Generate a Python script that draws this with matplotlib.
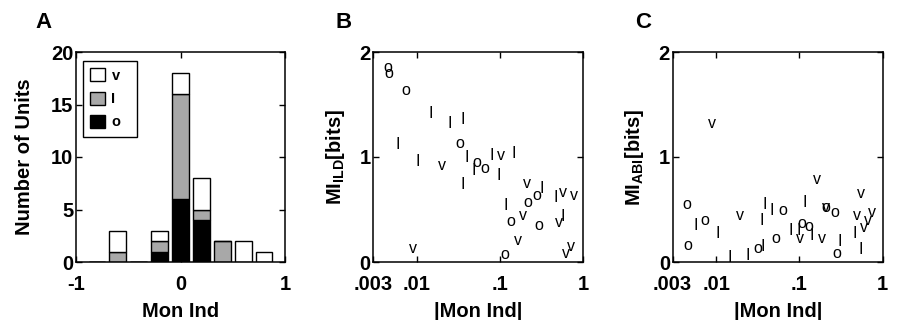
import numpy as np
import matplotlib
matplotlib.use('Agg')
import matplotlib.pyplot as plt
from matplotlib.patches import Patch

plt.rcParams['font.family'] = ['Liberation Sans', 'DejaVu Sans']
plt.rcParams['font.weight'] = 'bold'
plt.rcParams['axes.labelweight'] = 'bold'
plt.rcParams['font.size'] = 14.5
plt.rcParams['axes.unicode_minus'] = False
plt.rcParams['mathtext.fontset'] = 'custom'
plt.rcParams['mathtext.rm'] = 'Liberation Sans:bold'
plt.rcParams['mathtext.bf'] = 'Liberation Sans:bold'

# panel A: histogram of monaural index, stacked by unit type
bin_centers = [-0.8, -0.6, -0.4, -0.2, 0.0, 0.2, 0.4, 0.6, 0.8]
count_o = [0, 0, 0, 1, 6, 4, 0, 0, 0]
count_I = [0, 1, 0, 1, 10, 1, 2, 0, 0]
count_v = [0, 2, 0, 1, 2, 3, 0, 2, 1]

# panel B: MI for ILD vs |Mon Ind|
b_o_x = [0.0045, 0.0046, 0.0073, 0.033, 0.052, 0.066, 0.1125, 0.134, 0.213, 0.275, 0.296]
b_o_y = [1.85, 1.79, 1.63, 1.12, 0.94, 0.89, 0.07, 0.38, 0.56, 0.63, 0.34]
b_I_x = [0.0148, 0.025, 0.0355, 0.0059, 0.0104, 0.0396, 0.0355, 0.048, 0.0793, 0.097,
         0.147, 0.315, 0.117, 0.47, 0.56]
b_I_y = [1.42, 1.33, 1.37, 1.13, 0.97, 1.01, 0.75, 0.88, 1.02, 0.83,
         1.04, 0.71, 0.55, 0.62, 0.44]
b_v_x = [0.020, 0.1026, 0.212, 0.19, 0.166, 0.0091, 0.575, 0.773, 0.515, 0.614, 0.705]
b_v_y = [0.91, 1.01, 0.74, 0.44, 0.20, 0.12, 0.66, 0.63, 0.37, 0.08, 0.14]

# panel C: MI for ABI vs |Mon Ind|
c_o_x = [0.0044, 0.0046, 0.0072, 0.0318, 0.0634, 0.0519, 0.107, 0.13, 0.206, 0.266, 0.284]
c_o_y = [0.54, 0.15, 0.39, 0.12, 0.49, 0.22, 0.36, 0.33, 0.51, 0.47, 0.08]
c_I_x = [0.0057, 0.0103, 0.0146, 0.0237, 0.0359, 0.0348, 0.0383, 0.046, 0.0783, 0.0968,
         0.14, 0.115, 0.308, 0.458, 0.54]
c_I_y = [0.36, 0.28, 0.05, 0.07, 0.16, 0.41, 0.56, 0.50, 0.31, 0.31,
         0.26, 0.58, 0.21, 0.28, 0.13]
c_v_x = [0.0088, 0.0195, 0.1, 0.162, 0.1875, 0.208, 0.55, 0.492, 0.603, 0.661, 0.745]
c_v_y = [1.31, 0.44, 0.22, 0.78, 0.22, 0.51, 0.65, 0.44, 0.32, 0.39, 0.47]

log_ticks = [0.003, 0.01, 0.1, 1]
log_labels = ['.003', '.01', '.1', '1']
gray = '#a8a8a8'

fig = plt.figure(figsize=(9.01, 3.2), dpi=100)
axA = fig.add_axes([0.0844, 0.18125, 0.2319, 0.65625])
axB = fig.add_axes([0.4143, 0.18125, 0.2331, 0.65625])
axC = fig.add_axes([0.7466, 0.18125, 0.2331, 0.65625])


def style(ax):
    ax.tick_params(direction='in', top=True, right=True, length=4, width=1, labelsize=14.5)
    ax.tick_params(axis='x', pad=9)
    ax.tick_params(axis='y', pad=2)
    for lab in ax.get_xticklabels() + ax.get_yticklabels():
        lab.set_fontweight('bold')
    for s in ax.spines.values():
        s.set_linewidth(1.1)
    ax.xaxis.set_label_coords(0.5, -0.19)


# A
w = 0.16
o = np.array(count_o)
i = np.array(count_I)
v = np.array(count_v)
axA.bar(bin_centers, o, w, color='black', edgecolor='black', linewidth=1)
axA.bar(bin_centers, i, w, bottom=o, color=gray, edgecolor='black', linewidth=1)
axA.bar(bin_centers, v, w, bottom=o + i, color='white', edgecolor='black', linewidth=1)
axA.set_xlim(-1, 1)
axA.set_ylim(0, 20)
axA.set_xticks([-1, 0, 1])
axA.set_yticks([0, 5, 10, 15, 20])
axA.set_xlabel('Mon Ind')
axA.set_ylabel('Number of Units')
style(axA)
axA.yaxis.set_label_coords(-0.2, 0.5)
handles = [Patch(facecolor='white', edgecolor='black', label='v'),
           Patch(facecolor=gray, edgecolor='black', label='I'),
           Patch(facecolor='black', edgecolor='black', label='o')]
leg = axA.legend(handles=handles, loc='upper left', bbox_to_anchor=(0.0335, 0.595, 0.258, 0.362),
                 mode='expand', borderaxespad=0, fancybox=False, framealpha=1,
                 edgecolor='black', fontsize=10.5, handlelength=1.0, handleheight=1.0,
                 handletextpad=0.45, labelspacing=0.6, borderpad=0.5)
leg.get_frame().set_linewidth(1)


def glyphs(ax, xs, ys, ch):
    dy = -4.0 if ch == 'I' else -2.9
    for x, y in zip(xs, ys):
        ax.annotate(ch, (x, y), xytext=(0, dy), textcoords='offset points',
                    ha='center', va='baseline', fontsize=11.5, fontweight='normal')


for ax, sets in [(axB, [(b_o_x, b_o_y, 'o'), (b_I_x, b_I_y, 'I'), (b_v_x, b_v_y, 'v')]),
                 (axC, [(c_o_x, c_o_y, 'o'), (c_I_x, c_I_y, 'I'), (c_v_x, c_v_y, 'v')])]:
    ax.set_xscale('log')
    ax.set_xlim(0.003, 1)
    ax.set_ylim(0, 2)
    for xs, ys, ch in sets:
        glyphs(ax, xs, ys, ch)
    ax.set_xticks(log_ticks)
    ax.set_xticklabels(log_labels)
    ax.xaxis.set_minor_locator(matplotlib.ticker.NullLocator())
    ax.set_yticks([0, 1, 2])
    ax.set_xlabel('|Mon Ind|')
    style(ax)

axB.set_ylabel(r'MI$_{\rm ILD}$[bits]')
axC.set_ylabel(r'MI$_{\rm ABI}$[bits]')
axB.yaxis.set_label_coords(-0.125, 0.5)
axC.yaxis.set_label_coords(-0.125, 0.5)

fig.text(0.039, 0.93, 'A', fontsize=16, ha='left', va='center')
fig.text(0.372, 0.93, 'B', fontsize=16, ha='left', va='center')
fig.text(0.705, 0.93, 'C', fontsize=16, ha='left', va='center')

fig.savefig('out.png', dpi=100)
